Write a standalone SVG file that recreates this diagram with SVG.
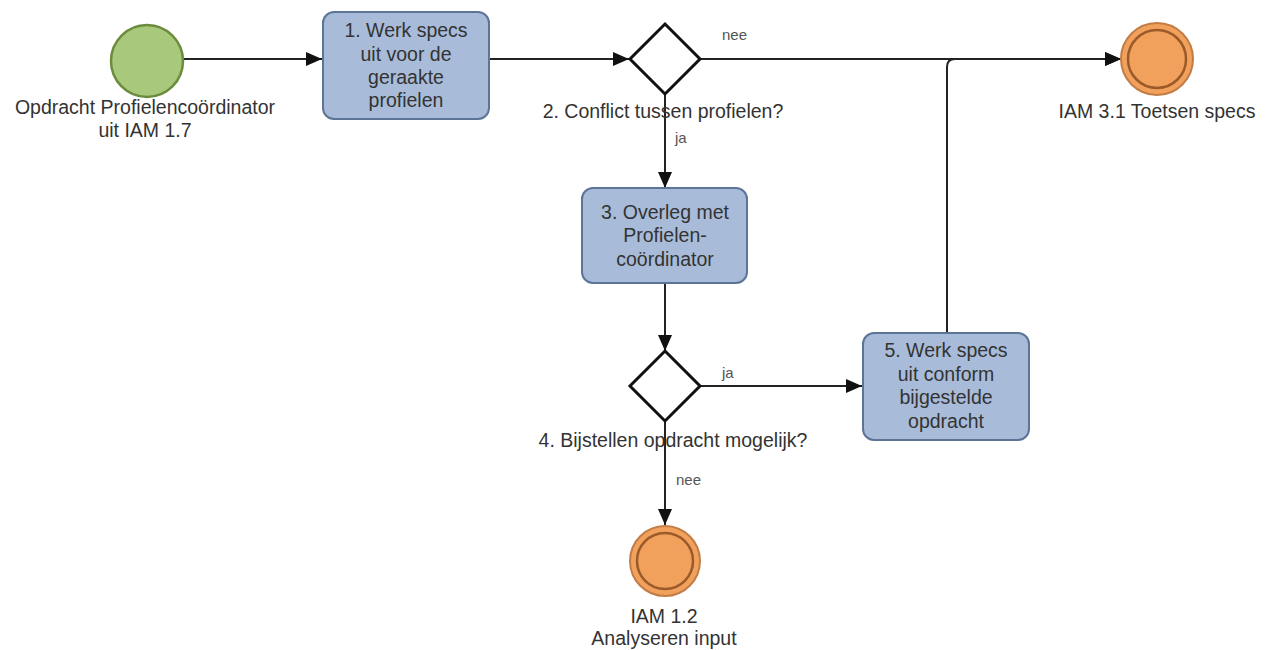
<svg xmlns="http://www.w3.org/2000/svg" width="1265" height="650" viewBox="0 0 1265 650">
<defs>
<marker id="arr" viewBox="0 0 16 14" refX="16" refY="7" markerWidth="16" markerHeight="14" markerUnits="userSpaceOnUse" orient="auto">
<path d="M0,0 L16,7 L0,14 Z" fill="#111"/>
</marker>
<style>
.lbl{font-family:"Liberation Sans",Arial,sans-serif;font-size:19.5px;fill:#333;text-anchor:middle}
.small{font-family:"Liberation Sans",Arial,sans-serif;font-size:15px;fill:#555}
.task{fill:#a8bcd9;stroke:#5e7497;stroke-width:2}
.gw{fill:#fff;stroke:#111;stroke-width:3}
.start{fill:#a8c87c;stroke:#6c8c3d;stroke-width:2.5}
.end{fill:#f2a15c;stroke:#c27c45;stroke-width:2}
.endin{fill:none;stroke:#9b5a2a;stroke-width:2.5}
.conn{fill:none;stroke:#222;stroke-width:2}
</style>
</defs>
<rect width="1265" height="650" fill="#fff"/>
<g id="connectors">
<path class="conn" d="M184,59 H322" marker-end="url(#arr)"/>
<path class="conn" d="M490,59 H629" marker-end="url(#arr)"/>
<path class="conn" d="M700,59 H1121" marker-end="url(#arr)"/>
<path class="conn" d="M947,333 V67 Q947,59 955,59 H1121" marker-end="url(#arr)"/>
<path class="conn" d="M665,94 V188" marker-end="url(#arr)"/>
<path class="conn" d="M665,283 V351" marker-end="url(#arr)"/>
<path class="conn" d="M700,386 H862" marker-end="url(#arr)"/>
<path class="conn" d="M665,421 V525" marker-end="url(#arr)"/>
<text class="small" x="722" y="40">nee</text>
<text class="small" x="675" y="143">ja</text>
<text class="small" x="722" y="378">ja</text>
<text class="small" x="676" y="485">nee</text>
</g>
<g id="start">
<circle class="start" cx="147" cy="61" r="36"/>
<text class="lbl" x="145" y="114">Opdracht Profielencoördinator</text>
<text class="lbl" x="145" y="137">uit IAM 1.7</text>
</g>
<g id="task1">
<rect class="task" x="323" y="12" width="166" height="107" rx="11"/>
<text class="lbl" x="406" y="37">1. Werk specs</text>
<text class="lbl" x="406" y="61">uit voor de</text>
<text class="lbl" x="406" y="84">geraakte</text>
<text class="lbl" x="406" y="107">profielen</text>
</g>
<g id="gateway1">
<path class="gw" d="M665,24 L700,59 L665,94 L630,59 Z"/>
<text class="lbl" x="663" y="118">2. Conflict tussen profielen?</text>
</g>
<g id="end1">
<circle class="end" cx="1157" cy="59" r="36"/>
<circle class="endin" cx="1157" cy="59" r="29"/>
<text class="lbl" x="1157" y="118">IAM 3.1 Toetsen specs</text>
</g>
<g id="task3">
<rect class="task" x="582" y="188" width="165" height="95" rx="11"/>
<text class="lbl" x="665" y="219">3. Overleg met</text>
<text class="lbl" x="665" y="242">Profielen-</text>
<text class="lbl" x="665" y="266">coördinator</text>
</g>
<g id="gateway2">
<path class="gw" d="M665,351 L700,386 L665,421 L630,386 Z"/>
<text class="lbl" x="673" y="447">4. Bijstellen opdracht mogelijk?</text>
</g>
<g id="task5">
<rect class="task" x="863" y="333" width="166" height="107" rx="11"/>
<text class="lbl" x="946" y="357">5. Werk specs</text>
<text class="lbl" x="946" y="381">uit conform</text>
<text class="lbl" x="946" y="404">bijgestelde</text>
<text class="lbl" x="946" y="428">opdracht</text>
</g>
<g id="end2">
<circle class="end" cx="665" cy="561" r="35"/>
<circle class="endin" cx="665" cy="561" r="28"/>
<text class="lbl" x="664" y="623">IAM 1.2</text>
<text class="lbl" x="664" y="645">Analyseren input</text>
</g>
</svg>
